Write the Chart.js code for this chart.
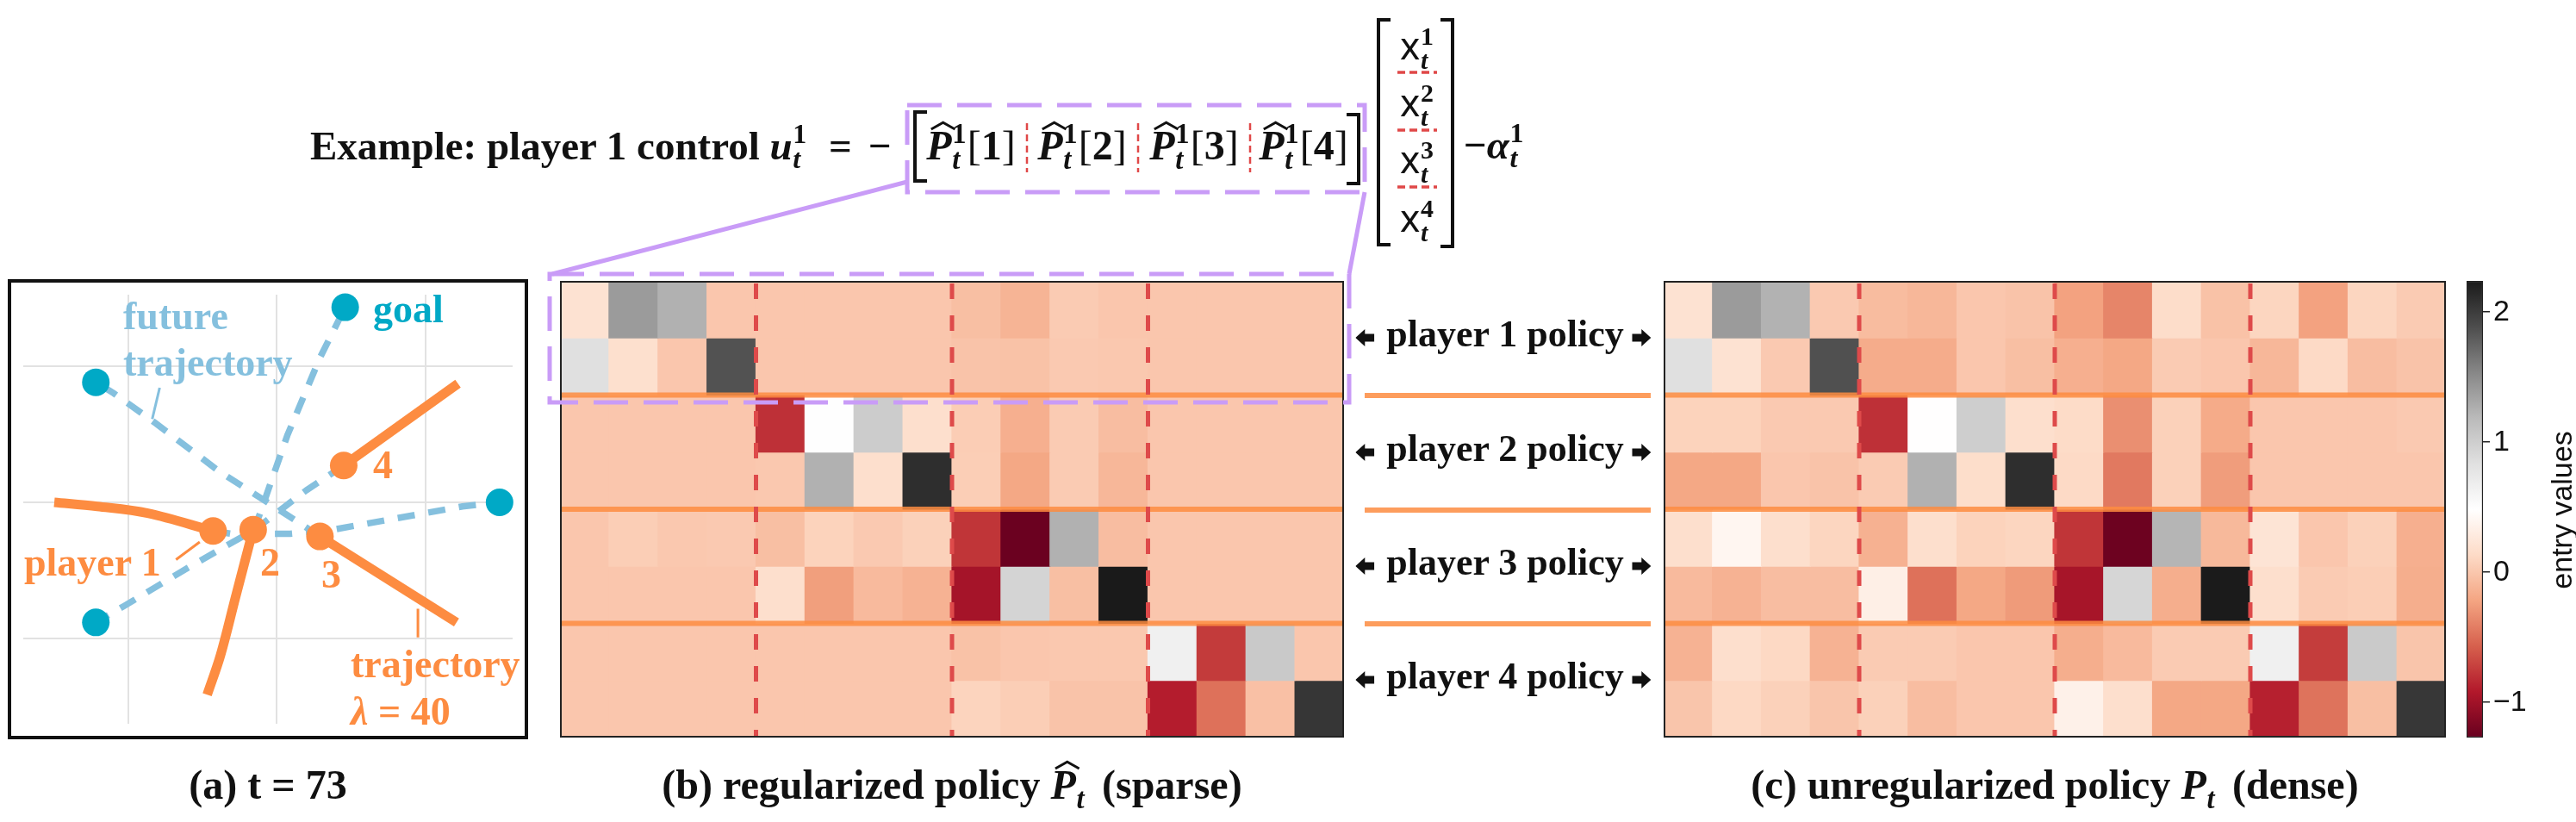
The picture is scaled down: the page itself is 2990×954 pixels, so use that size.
<!DOCTYPE html>
<html>
<head>
<meta charset="utf-8">
<title>regularized vs unregularized policy</title>
<script src="https://cdn.jsdelivr.net/npm/chart.js@4.4.1/dist/chart.umd.min.js"></script>
<style>
  html, body { margin: 0; padding: 0; background: #fff; }
  body { position: relative; width: 2990px; height: 954px; overflow: hidden;
         font-family: "Liberation Serif", serif; color: #111; }
  canvas, .lbl, .box, svg.over { position: absolute; }
  .lbl { line-height: 1; white-space: nowrap; font-weight: 700; }
  .scr { display: inline-block; position: relative; width: .38em; height: 0;
         font-family: "Liberation Serif", serif; }
  .scr > span { position: absolute; left: .02em; font-size: .68em; line-height: 1; }
  .scr .hi { bottom: .40em; }
  .scr .lo { bottom: -.52em; font-style: italic; }
  .hat { position: relative; display: inline-block; font-style: italic; }
  .hat svg { position: absolute; left: .1em; top: -.07em; width: .6em; height: .2em; overflow: visible; }
  .sans { font-family: "Noto Sans", sans-serif; font-weight: 400; }
</style>
</head>
<body>
<canvas id="traj" width="600" height="530" style="left:11px;top:326px"></canvas>
<div class="box" style="left:9px;top:324px;width:596px;height:526px;border:4px solid #111"></div>
<canvas id="sparse" width="910" height="530" style="left:650px;top:326px"></canvas>
<canvas id="dense" width="908" height="530" style="left:1931px;top:326px"></canvas>
<canvas id="cbar" width="89" height="590" style="left:2863px;top:296px"></canvas>

<svg class="over" width="2990" height="954" viewBox="0 0 2990 954" style="left:0;top:0">
  <g fill="none" stroke="#c99cf7" stroke-width="5">
    <rect x="1053" y="122" width="531" height="101" stroke-dasharray="40 18"/>
    <rect x="638" y="318" width="928" height="149" stroke-dasharray="40 18"/>
    <line x1="1053" y1="211" x2="641" y2="318"/>
    <line x1="1584" y1="223" x2="1566" y2="318"/>
  </g>
  <g fill="none" stroke="#111" stroke-width="4">
    <path d="M1076 130 H1062 V210 H1076"/>
    <path d="M1563 133 H1577 V213 H1563"/>
    <path d="M1614 23 H1600 V284 H1614"/>
    <path d="M1672 23 H1686 V286 H1672"/>
  </g>
  <g stroke="#e04848" stroke-width="2.5" stroke-dasharray="8 5">
    <line x1="1192" y1="143" x2="1192" y2="200"/>
    <line x1="1321" y1="143" x2="1321" y2="200"/>
    <line x1="1451" y1="143" x2="1451" y2="200"/>
  </g>
  <g stroke="#e04848" stroke-width="3.5" stroke-dasharray="9 5">
    <line x1="1622" y1="84" x2="1668" y2="84"/>
    <line x1="1622" y1="151" x2="1668" y2="151"/>
    <line x1="1622" y1="217" x2="1668" y2="217"/>
  </g>
  <g stroke="rgba(253,140,65,0.85)" stroke-width="6">
    <line x1="1584" y1="459" x2="1916" y2="459"/>
    <line x1="1584" y1="592" x2="1916" y2="592"/>
    <line x1="1584" y1="724" x2="1916" y2="724"/>
  </g>
</svg>

<script>
// ---- values ----
const colLabels = ["1", "2", "3", "4", "5", "6", "7", "8", "9", "10", "11", "12", "13", "14", "15", "16"];

// regularized policy (b): 8 rows (2 per player) x 16 state entries
const sparseRows = [
  [0.20, 1.40, 1.25, 0, 0, 0, 0, 0, -0.05, -0.12, 0.03, 0, 0, 0, 0, 0],
  [0.84, 0.18, 0, 1.86, 0, 0, 0, 0, -0.02, -0.03, 0.02, 0.01, 0, 0, 0, 0],
  [0, 0, 0, 0, -0.80, 0.50, 1.02, 0.17, 0.04, -0.15, 0.03, -0.06, 0, 0, 0, 0],
  [0, 0, 0, 0, 0.01, 1.25, 0.17, 2.10, 0.05, -0.20, 0.03, -0.10, 0, 0, 0, 0],
  [0, 0.05, 0.01, 0.02, -0.05, 0.08, 0.02, 0.07, -0.78, -1.25, 1.25, -0.06, 0, 0, 0, 0],
  [0, 0, 0, 0, 0.17, -0.25, -0.08, -0.13, -0.98, 0.95, -0.05, 2.24, 0, 0, 0, 0],
  [0, 0, 0, 0, 0, 0, 0, 0, -0.03, 0, 0.01, 0.01, 0.65, -0.75, 1.05, 0],
  [0, 0, 0, 0, 0, 0, 0, 0, 0.09, 0.05, -0.02, -0.02, -0.90, -0.48, -0.04, 2.05],
];

// unregularized policy (c)
const denseRows = [
  [0.20, 1.40, 1.24, 0.02, -0.07, -0.10, 0, -0.02, -0.23, -0.38, 0.15, -0.03, 0.10, -0.23, 0.10, 0.03],
  [0.84, 0.20, 0.02, 1.87, -0.17, -0.17, 0, -0.05, -0.15, -0.20, 0.03, 0, -0.10, 0.13, -0.06, -0.02],
  [0.08, 0.08, 0.02, 0.02, -0.80, 0.48, 1.00, 0.17, 0.14, -0.33, 0.07, -0.18, 0, 0, 0, 0.02],
  [-0.20, -0.20, 0, -0.02, 0.03, 1.25, 0.16, 2.10, 0.13, -0.44, 0.07, -0.26, 0, 0, 0, 0],
  [0.17, 0.40, 0.17, 0.10, -0.14, 0.17, 0.08, 0.10, -0.78, -1.24, 1.22, -0.09, 0.22, 0, 0.07, -0.15],
  [-0.08, -0.13, -0.06, -0.06, 0.33, -0.48, -0.20, -0.27, -0.97, 0.93, -0.16, 2.23, 0.17, 0.03, 0.05, -0.16],
  [-0.13, 0.17, 0.12, -0.13, 0.03, 0.03, 0, 0, -0.16, -0.08, 0.03, 0.03, 0.65, -0.74, 1.04, -0.01],
  [-0.01, 0.12, 0.07, -0.01, 0.07, -0.06, 0, 0, 0.35, 0.17, -0.20, -0.20, -0.88, -0.47, -0.05, 2.04],
];

const vmin = -1.27, vmax = 2.24;
const cbarTicks = [-1, 0, 1, 2];
const blockCols = [4, 8, 12];   // player boundaries along the state vector
const blockRows = [2, 4, 6];    // player boundaries along the control vector

// panel (a): positions in the x-y plane at t = 73
const goals   = [{x: 1.46, y: 1.43}, {x: -0.22, y: 0.88}, {x: 2.50, y: 0.00}, {x: -0.22, y: -0.88}];
const players = [{x: 0.57, y: -0.21}, {x: 0.84, y: -0.20}, {x: 1.29, y: -0.25}, {x: 1.45, y: 0.27}];
const past1 = [{x: -0.50, y: 0.00}, {x: -0.21, y: -0.03}, {x: 0.13, y: -0.08}, {x: 0.57, y: -0.21}];
const past2 = [{x: 0.84, y: -0.20}, {x: 0.72, y: -0.70}, {x: 0.62, y: -1.12}, {x: 0.53, y: -1.41}];
const past3 = [{x: 1.29, y: -0.25}, {x: 2.21, y: -0.88}];
const past4 = [{x: 1.45, y: 0.27}, {x: 2.22, y: 0.87}];
const future1 = [{x: 0.57, y: -0.21}, {x: 0.69, y: -0.23}, {x: 1.09, y: -0.23}, {x: 1.38, y: -0.20}, {x: 2.25, y: -0.03}, {x: 2.50, y: 0.00}];
const future2 = [{x: 0.84, y: -0.20}, {x: 0.88, y: -0.10}, {x: 1.07, y: 0.49}, {x: 1.29, y: 1.06}, {x: 1.46, y: 1.43}];
const future3 = [{x: 1.29, y: -0.25}, {x: 0.98, y: -0.03}, {x: 0.62, y: 0.22}, {x: 0.17, y: 0.59}, {x: -0.10, y: 0.80}, {x: -0.22, y: 0.88}];
const future4 = [{x: 1.45, y: 0.27}, {x: 1.20, y: 0.09}, {x: 0.85, y: -0.20}, {x: 0.40, y: -0.48}, {x: -0.03, y: -0.76}, {x: -0.22, y: -0.88}];
const leadPlayer = [{x: 0.32, y: -0.42}, {x: 0.48, y: -0.29}];
const leadTraj   = [{x: 1.95, y: -0.78}, {x: 1.95, y: -0.99}];
const leadFuture = [{x: 0.21, y: 0.84}, {x: 0.16, y: 0.61}];
const gridX = [0, 1, 2], gridY = [-1, 0, 1];

// ---- colors ----
const ORANGE = "#fd8c41", TEAL = "#00a9c6", SKY = "#85c0de";
const RdGy = ["#67001f", "#b2182b", "#d6604d", "#f4a582", "#fddbc7", "#ffffff",
              "#e0e0e0", "#bababa", "#878787", "#4d4d4d", "#1a1a1a"];
const rgbStops = RdGy.map(h => [1, 3, 5].map(i => parseInt(h.slice(i, i + 2), 16)));

function colorFor(v) {
  const t = Math.min(1, Math.max(0, (v - vmin) / (vmax - vmin))) * 10;
  const i = Math.min(9, Math.floor(t)), f = t - i;
  const a = rgbStops[i], b = rgbStops[i + 1];
  const c = a.map((ch, k) => Math.round(ch + (b[k] - ch) * f));
  return `rgb(${c[0]},${c[1]},${c[2]})`;
}

Chart.defaults.font.family = "Liberation Sans";
Chart.defaults.animation = false;

// ---- heatmaps: one stacked bar per column, one dataset per row ----
const blockOverlay = {
  id: "blockOverlay",
  afterDatasetsDraw(chart) {
    const {ctx, chartArea: a, scales: {x, y}} = chart;
    ctx.save();
    ctx.strokeStyle = "rgba(253,140,65,0.85)";
    ctx.lineWidth = 6;
    blockRows.forEach(r => {
      const py = y.getPixelForValue(r);
      ctx.beginPath(); ctx.moveTo(a.left, py); ctx.lineTo(a.right, py); ctx.stroke();
    });
    ctx.strokeStyle = "#de4a4a";
    ctx.lineWidth = 5;
    ctx.setLineDash([18, 19]);
    blockCols.forEach(c => {
      const px = (x.getPixelForValue(c - 1) + x.getPixelForValue(c)) / 2;
      ctx.beginPath(); ctx.moveTo(px, a.top + 3); ctx.lineTo(px, a.bottom); ctx.stroke();
    });
    ctx.setLineDash([]);
    ctx.strokeStyle = "#222";
    ctx.lineWidth = 2;
    ctx.strokeRect(a.left + 1, a.top + 1, a.width - 2, a.height - 2);
    ctx.restore();
  },
};

function heatmap(id, rows) {
  return new Chart(document.getElementById(id), {
    type: "bar",
    data: {
      labels: colLabels,
      datasets: rows.map(row => ({
        data: row.map(() => 1),
        backgroundColor: row.map(colorFor),
        borderWidth: 0,
        inflateAmount: 0.6,
        barPercentage: 1,
        categoryPercentage: 1,
        stack: "m",
      })),
    },
    options: {
      responsive: false,
      layout: { padding: 0 },
      plugins: { legend: { display: false }, tooltip: { enabled: false } },
      scales: {
        x: { display: false, stacked: true },
        y: { display: false, stacked: true, min: 0, max: 8, reverse: true },
      },
    },
    plugins: [blockOverlay],
  });
}
heatmap("sparse", sparseRows);
heatmap("dense", denseRows);

// ---- colorbar ----
new Chart(document.getElementById("cbar"), {
  type: "bar",
  data: {
    labels: [""],
    datasets: [{
      data: [[vmin, vmax]],
      backgroundColor: c => {
        const area = c.chart.chartArea;
        if (!area) return null;
        const g = c.chart.ctx.createLinearGradient(0, area.bottom, 0, area.top);
        RdGy.forEach((col, i) => g.addColorStop(i / 10, col));
        return g;
      },
      borderColor: "#222",
      borderWidth: 1.5,
      borderSkipped: false,
      barPercentage: 1,
      categoryPercentage: 1,
    }],
  },
  options: {
    responsive: false,
    layout: { padding: { top: 30, bottom: 30, left: 0, right: 0 } },
    plugins: { legend: { display: false }, tooltip: { enabled: false } },
    scales: {
      x: { display: false },
      y: {
        position: "right",
        min: vmin, max: vmax,
        afterBuildTicks: s => { s.ticks = cbarTicks.map(v => ({ value: v })); },
        afterFit: s => { s.width = 70; },
        ticks: {
          color: "#111", padding: 4,
          font: { family: "Liberation Sans", size: 34 },
          callback: v => (v < 0 ? "\u2212" + Math.abs(v) : String(v)),
        },
        grid: { drawOnChartArea: false, tickLength: 8, color: "#222", lineWidth: 1.5 },
        border: { display: false },
      },
    },
  },
});

// ---- panel (a): trajectories ----
const line = (data, color, width, extra) => Object.assign({
  data, showLine: true, borderColor: color, borderWidth: width,
  pointRadius: 0, borderCapStyle: "butt", fill: false,
}, extra || {});

new Chart(document.getElementById("traj"), {
  type: "scatter",
  data: {
    datasets: [
      { data: players, pointRadius: 16, pointBackgroundColor: ORANGE, pointBorderWidth: 0 },
      { data: goals, pointRadius: 16, pointBackgroundColor: TEAL, pointBorderWidth: 0 },
      line(past1, ORANGE, 11, { tension: 0.35 }),
      line(past2, ORANGE, 11, { tension: 0.35 }),
      line(past3, ORANGE, 11),
      line(past4, ORANGE, 11),
      line(leadPlayer, ORANGE, 3),
      line(leadTraj, ORANGE, 3),
      line(leadFuture, SKY, 3),
      line(future1, SKY, 7.5, { borderDash: [20, 16] }),
      line(future2, SKY, 7.5, { borderDash: [20, 16] }),
      line(future3, SKY, 7.5, { borderDash: [20, 16] }),
      line(future4, SKY, 7.5, { borderDash: [20, 16] }),
    ],
  },
  options: {
    responsive: false,
    clip: false,
    layout: { padding: 0 },
    plugins: { legend: { display: false }, tooltip: { enabled: false } },
    scales: {
      x: {
        type: "linear", min: -0.709, max: 2.588,
        afterBuildTicks: s => { s.ticks = gridX.map(v => ({ value: v })); },
        ticks: { display: false },
        grid: { color: "#e2e2e2", lineWidth: 2, drawTicks: false },
        border: { display: false },
      },
      y: {
        type: "linear", min: -1.623, max: 1.522,
        afterBuildTicks: s => { s.ticks = gridY.map(v => ({ value: v })); },
        ticks: { display: false },
        grid: { color: "#e2e2e2", lineWidth: 2, drawTicks: false },
        border: { display: false },
      },
    },
  },
});

// ---- text ----
function put(html, x, base, size, opts) {
  opts = opts || {};
  const d = document.createElement("div");
  d.className = "lbl";
  d.innerHTML = html;
  d.style.fontSize = size + "px";
  d.style.left = x + "px";
  d.style.top = (base - 0.8375 * size) + "px";
  if (opts.color) d.style.color = opts.color;
  if (opts.center) d.style.transform = "translateX(-50%)";
  document.body.appendChild(d);
}
const scr = (hi, lo) => `<span class="scr">${hi ? `<span class="hi">${hi}</span>` : ""}${lo ? `<span class="lo">${lo}</span>` : ""}</span>`;
const hatP = `<span class="hat">P<svg viewBox="0 0 100 30" preserveAspectRatio="none"><polyline points="2,28 50,4 98,28" fill="none" stroke="#111" stroke-width="3" vector-effect="non-scaling-stroke"/></svg></span>`;
const arrowL = `<svg width="22" height="20" viewBox="0 0 22 20" style="margin-right:14px"><path d="M0 10 L11 0 V5.5 H22 V14.5 H11 V20 Z" fill="#111"/></svg>`;
const arrowR = `<svg width="22" height="20" viewBox="0 0 22 20" style="margin-left:10px"><path d="M22 10 L11 0 V5.5 H0 V14.5 H11 V20 Z" fill="#111"/></svg>`;

// equation
put(`Example: player 1 control <i>u</i>${scr("1", "t")}`, 360, 185, 47);
put("=", 962, 185, 47);
put("\u2212", 1008, 185, 47);
[["1", 1127], ["2", 1256], ["3", 1386], ["4", 1513]].forEach(([k, cx]) => {
  put(`${hatP}${scr("1", "t")}<span style="font-weight:400">[</span>${k}<span style="font-weight:400">]</span>`, cx, 185, 48, { center: true });
});
[["1", 67], ["2", 133], ["3", 199], ["4", 267]].forEach(([k, b]) => {
  put(`<span class="sans">x</span>${scr(k, "t")}`, 1645, b, 44, { center: true });
});
put(`\u2212<i>\u03b1</i>${scr("1", "t")}`, 1699, 184, 47);

// panel (a) labels
put("future", 143, 383, 46, { color: SKY });
put("trajectory", 143, 437, 46, { color: SKY });
put("goal", 433, 375, 46, { color: TEAL });
put("4", 433, 556, 46, { color: ORANGE });
put("player 1", 28, 669, 46, { color: ORANGE });
put("2", 302, 669, 46, { color: ORANGE });
put("3", 373, 683, 46, { color: ORANGE });
put("trajectory", 407, 787, 46, { color: ORANGE });
put("<i>\u03bb</i> = 40", 407, 842, 46, { color: ORANGE });

// row labels between the two policies
[403, 536, 668, 800].forEach((b, i) => {
  put(`${arrowL}player ${i + 1} policy${arrowR}`, 1745, b, 44, { center: true });
});

// captions
put("(a) t = 73", 311, 927, 48, { center: true });
put(`(b) regularized policy ${hatP}${scr("", "t")} (sparse)`, 1105, 927, 48, { center: true });
put(`(c) unregularized policy <i>P</i>${scr("", "t")} (dense)`, 2385, 927, 48, { center: true });

// colorbar label
const cb = document.createElement("div");
cb.className = "lbl";
cb.textContent = "entry values";
Object.assign(cb.style, {
  fontFamily: "Liberation Sans", fontWeight: "400", fontSize: "34px", color: "#111",
  left: "2973px", top: "592px", transform: "translate(-50%,-50%) rotate(-90deg)",
});
document.body.appendChild(cb);
</script>
</body>
</html>
